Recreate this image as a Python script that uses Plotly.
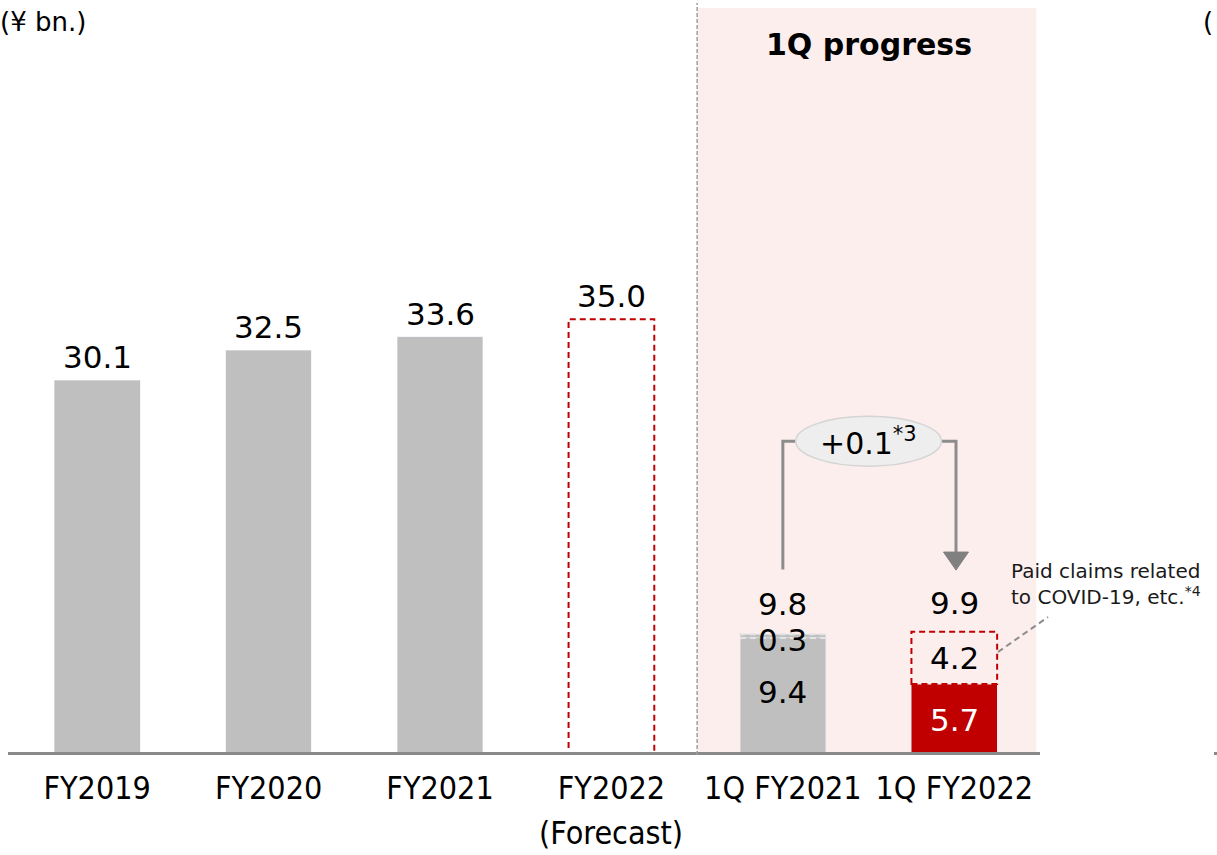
import plotly.graph_objects as go

categories = ["FY2019", "FY2020", "FY2021", "FY2022", "1Q FY2021", "1Q FY2022"]
tick_labels = ["FY2019", "FY2020", "FY2021", "FY2022", "1Q FY2021", "1Q FY2022"]
annual_actual = [30.1, 32.5, 33.6, None, None, None]
annual_forecast = [None, None, None, 35.0, None, None]
q1_base = [None, None, None, None, 9.4, 5.7]
q1_covid = [None, None, None, None, 0.3, 4.2]
q1_total = [None, None, None, None, 9.8, 9.9]
diff_label = "+0.1"

GRAY = "#BFBFBF"
RED = "#C00000"
PINK = "#FDEEEE"
FONT = "DejaVu Sans, Verdana, sans-serif"
COND = "DejaVu Sans Condensed, DejaVu Sans, sans-serif"
BW = 0.5

W, H = 1217, 855
L, R, T, B = 8, 177, 8, 100
PW = W - L - R
PH = H - T - B
def px2paper_x(px):
    return (px - L) / PW
def px2paper_y(py):
    return (H - B - py) / PH

fig = go.Figure()

# pink background region for 1Q progress
fig.add_shape(type="rect", xref="x", yref="paper", x0=3.5, x1=5.478, y0=0, y1=1,
              fillcolor=PINK, line_width=0, layer="below")

fig.add_trace(go.Bar(x=categories, y=annual_actual, marker_color=GRAY, width=BW, showlegend=False))
fig.add_trace(go.Bar(x=categories, y=q1_base,
                     marker_color=[GRAY, GRAY, GRAY, GRAY, GRAY, RED], width=BW, showlegend=False))
fig.add_trace(go.Bar(x=categories, y=[q1_covid[i] if i == 4 else None for i in range(6)],
                     marker_color=GRAY, width=BW, showlegend=False))
fig.update_layout(barmode="stack")

# dashed outline for forecast bar
for i, v in enumerate(annual_forecast):
    if v is not None:
        fig.add_shape(type="rect", xref="x", yref="y", x0=i - BW / 2, x1=i + BW / 2, y0=0, y1=v,
                      line=dict(color=RED, width=2, dash="6px,4px"), fillcolor="rgba(0,0,0,0)")
# dashed boxes for covid portions
for i in range(6):
    if q1_covid[i] is not None:
        base = q1_base[i]
        col = "#E4E4E4" if i == 4 else RED
        fig.add_shape(type="rect", xref="x", yref="y", x0=i - BW / 2, x1=i + BW / 2,
                      y0=base, y1=base + q1_covid[i],
                      line=dict(color=col, width=2, dash="6px,4px"), fillcolor="rgba(0,0,0,0)")

# baseline
fig.add_shape(type="line", xref="paper", yref="y", x0=0, x1=1, y0=0, y1=0,
              line=dict(color="#898989", width=6))
fig.add_shape(type="line", xref="paper", yref="y", x0=px2paper_x(1214), x1=px2paper_x(1230), y0=0, y1=0,
              line=dict(color="#898989", width=6))

# vertical dashed separator
fig.add_shape(type="line", xref="x", yref="paper", x0=3.5, x1=3.5, y0=0, y1=px2paper_y(3),
              line=dict(color="#A0A0A0", width=1.5, dash="4px,2px"))

# value labels
for i in range(6):
    for arr in (annual_actual, annual_forecast, q1_total):
        v = arr[i]
        if v is not None:
            fig.add_annotation(x=categories[i], y=v, text=f"{v:.1f}", showarrow=False,
                               yanchor="bottom", yshift=3 if arr is not q1_total else 9,
                               font=dict(size=31, color="black", family=FONT))
# segment labels
for i in range(6):
    if q1_base[i] is not None:
        fig.add_annotation(x=categories[i], y=q1_base[i] / 2 + (0.35 if i == 4 else 0), text=f"{q1_base[i]:.1f}",
                           showarrow=False, yanchor="middle",
                           font=dict(size=31, color="white" if i == 5 else "black", family=FONT))
        c = q1_covid[i]
        if i == 4:
            ymid = q1_base[i] + c
            fig.add_annotation(x=categories[i], y=ymid, text=f"{c:.1f}", showarrow=False,
                               yanchor="middle", yshift=-6, font=dict(size=31, color="black", family=FONT))
        else:
            fig.add_annotation(x=categories[i], y=q1_base[i] + c / 2, text=f"{c:.1f}", showarrow=False,
                               yanchor="middle", font=dict(size=31, color="black", family=FONT))

# bracket and ellipse
yb = 25.2
fig.add_shape(type="path", xref="x", yref="y",
              path=f"M 4,14.9 L 4,{yb} L 4.1,{yb}", line=dict(color="#8C8C8C", width=3))
fig.add_shape(type="path", xref="x", yref="y",
              path=f"M 4.9,{yb} L 5.01,{yb} L 5.01,16.0", line=dict(color="#8C8C8C", width=3))
fig.add_shape(type="path", xref="x", yref="y",
              path="M 4.937,16.3 L 5.083,16.3 L 5.01,14.85 Z", fillcolor="#808080", line=dict(color="#808080", width=1))
fig.add_shape(type="circle", xref="x", yref="y", x0=4.5 - 0.425, x1=4.5 + 0.425, y0=yb - 2.0, y1=yb + 2.0,
              fillcolor="#EEEEEE", line=dict(color="#D4D4D4", width=1.5))
fig.add_annotation(x=4.5, y=yb, text=f"{diff_label}<sup>*3</sup>", showarrow=False, yanchor="middle",
                   font=dict(size=30, color="black", family=FONT))

# COVID note
fig.add_annotation(xref="paper", yref="paper", x=px2paper_x(1009), y=px2paper_y(584),
                   text="Paid claims related<br>to COVID-19, etc.<sup>*4</sup>", showarrow=False,
                   xanchor="left", yanchor="middle", align="left",
                   font=dict(size=20, color="#1a1a1a", family=FONT))
fig.add_shape(type="line", xref="paper", yref="paper", x0=px2paper_x(998), y0=px2paper_y(652),
              x1=px2paper_x(1048), y1=px2paper_y(617), line=dict(color="#8C8C8C", width=2, dash="6px,4px"))

# titles
fig.add_annotation(x=4.5, xref="x", yref="paper", y=px2paper_y(45), text="<b>1Q progress</b>",
                   showarrow=False, yanchor="middle", font=dict(size=30, color="black", family=FONT))
fig.add_annotation(xref="paper", yref="paper", x=px2paper_x(-2), y=px2paper_y(22), text="(¥ bn.)",
                   showarrow=False, xanchor="left", yanchor="middle",
                   font=dict(size=26, color="black", family=FONT))
fig.add_annotation(xref="paper", yref="paper", x=px2paper_x(1201), y=px2paper_y(22), text="(",
                   showarrow=False, xanchor="left", yanchor="middle",
                   font=dict(size=26, color="black", family=FONT))
fig.add_annotation(x="FY2022", yref="paper", y=px2paper_y(854), text="(Forecast)", showarrow=False,
                   yanchor="bottom", font=dict(size=32, color="black", family=COND))

fig.update_layout(
    width=W, height=H,
    margin=dict(l=L, r=R, t=T, b=B),
    plot_bgcolor="rgba(0,0,0,0)", paper_bgcolor="white",
    bargap=0.5,
    xaxis=dict(type="category", range=[-0.52, 5.5], tickvals=categories, ticktext=tick_labels,
               showgrid=False, zeroline=False, showline=False, ticks="", ticklabelstandoff=11,
               tickfont=dict(size=32, color="black", family=COND)),
    yaxis=dict(range=[0, 60], visible=False),
)

fig.write_html("out.html")
